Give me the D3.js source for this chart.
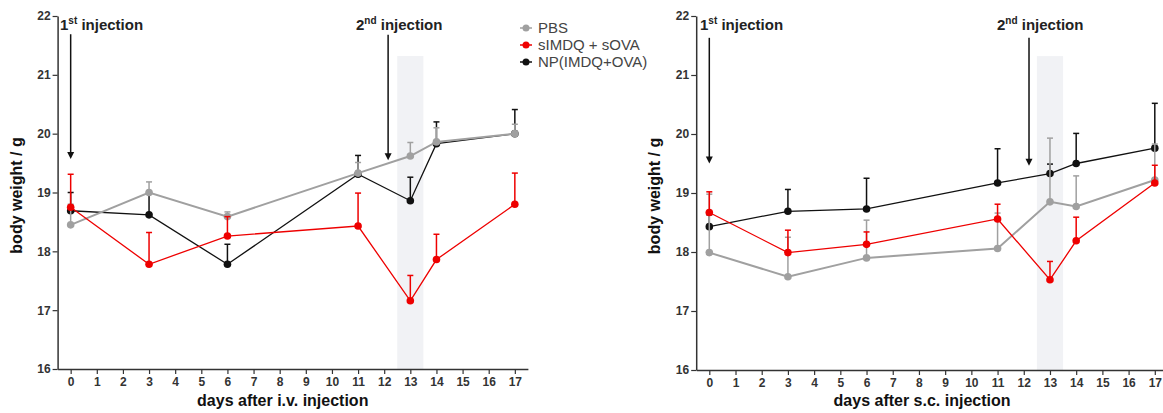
<!DOCTYPE html>
<html>
<head>
<meta charset="utf-8">
<script src="https://cdn.jsdelivr.net/npm/d3@7"></script>
<style>
    body { margin: 0; background: #fff; }
    svg { display: block; font-family: "Liberation Sans", Arial, sans-serif; }
    .tick text { font-weight: bold; font-size: 12px; fill: #333; }
    .axis-title { font-weight: bold; font-size: 16px; fill: #111; }
    .note { font-weight: bold; font-size: 15px; fill: #222; }
    .legend text { font-size: 15px; fill: #444; }
</style>
</head>
<body>
<svg id="chart" width="1163" height="413"></svg>
<script>
// --------------------------------------
// DATA
// --------------------------------------
var days = [0, 3, 6, 11, 13, 14, 17];
var dayTicks = d3.range(0, 18);
var weightTicks = [16, 17, 18, 19, 20, 21, 22];

var seriesNames = ['PBS', 'sIMDQ + sOVA', 'NP(IMDQ+OVA)'];
var seriesColors = ['#a0a0a0', '#ee0000', '#111111'];

// i.v. panel (mean, sem)
var ivPbs = [18.45, 19.0, 18.59, 19.33, 19.62, 19.86, 20.0];
var ivPbsSem = [0.35, 0.18, 0.08, 0.18, 0.23, 0.24, 0.16];
var ivSol = [18.75, 17.78, 18.26, 18.43, 17.16, 17.86, 18.8];
var ivSolSem = [0.56, 0.54, 0.33, 0.56, 0.43, 0.43, 0.53];
var ivNp = [18.69, 18.62, 17.78, 19.31, 18.86, 19.83, 20.0];
var ivNpSem = [0.31, 0.38, 0.34, 0.32, 0.4, 0.37, 0.41];

// s.c. panel (mean, sem)
var scPbs = [17.99, 17.58, 17.9, 18.06, 18.85, 18.77, 19.22];
var scPbsSem = [0.99, 0.67, 0.64, 0.6, 1.08, 0.52, 0.61];
var scSol = [18.67, 17.99, 18.13, 18.56, 17.53, 18.19, 19.17];
var scSolSem = [0.35, 0.38, 0.21, 0.25, 0.31, 0.4, 0.3];
var scNp = [18.43, 18.69, 18.73, 19.17, 19.33, 19.5, 19.76];
var scNpSem = [0.2, 0.37, 0.52, 0.58, 0.16, 0.51, 0.76];

var svg = d3.select('#chart');

// --------------------------------------
// draw one panel
// --------------------------------------
function drawPanel(opts) {
    var x = d3.scaleLinear().domain([-0.5, 17.5]).range([opts.left, opts.right]);
    var y = d3.scaleLinear().domain([16, 22]).range([opts.bottom, 16]);
    var g = svg.append('g');

    // shaded band around day 13
    g.append('rect')
        .attr('x', x(12.5)).attr('width', x(13.5) - x(12.5))
        .attr('y', y(21.32)).attr('height', y(16) - y(21.32))
        .attr('fill', '#f1f2f5');

    // axes
    var xAxis = g.append('g')
        .attr('transform', 'translate(0,' + opts.bottom + ')')
        .call(d3.axisBottom(x).tickValues(dayTicks).tickSize(5).tickPadding(3).tickSizeOuter(0));
    var yAxis = g.append('g')
        .attr('transform', 'translate(' + opts.left + ',0)')
        .call(d3.axisLeft(y).tickValues(weightTicks).tickFormat(d3.format('d'))
            .tickSize(5).tickPadding(2).tickSizeOuter(0));
    [xAxis, yAxis].forEach(function(a){
        a.select('.domain').attr('stroke', '#333').attr('stroke-width', 1.5);
        a.selectAll('.tick line').attr('stroke', '#333').attr('stroke-width', 1.2);
    });

    g.append('text').attr('class', 'axis-title')
        .attr('x', (opts.left + opts.right) / 2 - 10).attr('y', 406)
        .attr('text-anchor', 'middle').text(opts.xTitle);
    g.append('text').attr('class', 'axis-title')
        .attr('transform', 'translate(' + (opts.left - 36) + ',' + y(18.95) + ') rotate(-90)')
        .attr('text-anchor', 'middle').text('body weight / g');

    // injection arrows
    opts.notes.forEach(function(n){
        g.append('line')
            .attr('x1', x(n.day)).attr('x2', x(n.day))
            .attr('y1', y(n.from)).attr('y2', y(n.to) - 6)
            .attr('stroke', '#111').attr('stroke-width', 1.5);
        g.append('path')
            .attr('d', 'M' + (x(n.day) - 3.5) + ',' + (y(n.to) - 7) + 'L' + (x(n.day) + 3.5) + ',' + (y(n.to) - 7) +
                'L' + x(n.day) + ',' + y(n.to) + 'Z')
            .attr('fill', '#111');
        var t = g.append('text').attr('class', 'note').attr('x', n.tx).attr('y', 30);
        t.append('tspan').text(n.num);
        t.append('tspan').attr('dy', -6).attr('font-size', 10).text(n.sup);
        t.append('tspan').attr('dy', 6).text(' injection');
    });

    // series: black, gray, red (drawing order)
    var order = [2, 0, 1];
    order.forEach(function(si){
        var vals = opts.series[si], sems = opts.sems[si], color = seriesColors[si];
        var pts = days.map(function(d, i){ return { day: d, v: vals[i], e: sems[i] }; });
        var sg = g.append('g');

        sg.selectAll('line.err').data(pts).enter().append('line')
            .attr('x1', function(d){ return x(d.day); })
            .attr('x2', function(d){ return x(d.day); })
            .attr('y1', function(d){ return y(d.v); })
            .attr('y2', function(d){ return y(d.v + d.e); })
            .attr('stroke', color).attr('stroke-width', 1.5);
        sg.selectAll('line.cap').data(pts).enter().append('line')
            .attr('x1', function(d){ return x(d.day) - 3; })
            .attr('x2', function(d){ return x(d.day) + 3; })
            .attr('y1', function(d){ return y(d.v + d.e); })
            .attr('y2', function(d){ return y(d.v + d.e); })
            .attr('stroke', color).attr('stroke-width', 1.5);

        sg.append('path').datum(pts)
            .attr('fill', 'none').attr('stroke', color)
            .attr('stroke-width', si === 0 ? 2 : 1.3)
            .attr('d', d3.line().x(function(d){ return x(d.day); }).y(function(d){ return y(d.v); }));

        sg.selectAll('circle').data(pts).enter().append('circle')
            .attr('cx', function(d){ return x(d.day); })
            .attr('cy', function(d){ return y(d.v); })
            .attr('r', 3.8).attr('fill', color);
    });
}

drawPanel({
    left: 57.6, right: 527.9, bottom: 369,
    xTitle: 'days after i.v. injection',
    series: [ivPbs, ivSol, ivNp], sems: [ivPbsSem, ivSolSem, ivNpSem],
    notes: [
        { day: 0, from: 21.69, to: 19.57, tx: 60, num: '1', sup: 'st' },
        { day: 12.15, from: 21.68, to: 19.55, tx: 356, num: '2', sup: 'nd' }
    ]
});

drawPanel({
    left: 696.2, right: 1167.9, bottom: 370,
    xTitle: 'days after s.c. injection',
    series: [scPbs, scSol, scNp], sems: [scPbsSem, scSolSem, scNpSem],
    notes: [
        { day: 0, from: 21.63, to: 19.5, tx: 700, num: '1', sup: 'st' },
        { day: 12.2, from: 21.63, to: 19.46, tx: 997, num: '2', sup: 'nd' }
    ]
});

// --------------------------------------
// legend
// --------------------------------------
var legend = svg.append('g').attr('class', 'legend');
var legendY = [28, 45, 62];
seriesNames.forEach(function(name, i){
    legend.append('line')
        .attr('x1', 520).attr('x2', 532).attr('y1', legendY[i]).attr('y2', legendY[i])
        .attr('stroke', seriesColors[i]).attr('stroke-width', 1.5);
    legend.append('circle').attr('cx', 526).attr('cy', legendY[i]).attr('r', 3.5)
        .attr('fill', seriesColors[i]);
    legend.append('text').attr('x', 538).attr('y', legendY[i] + 5).text(name);
});
</script>
</body>
</html>
